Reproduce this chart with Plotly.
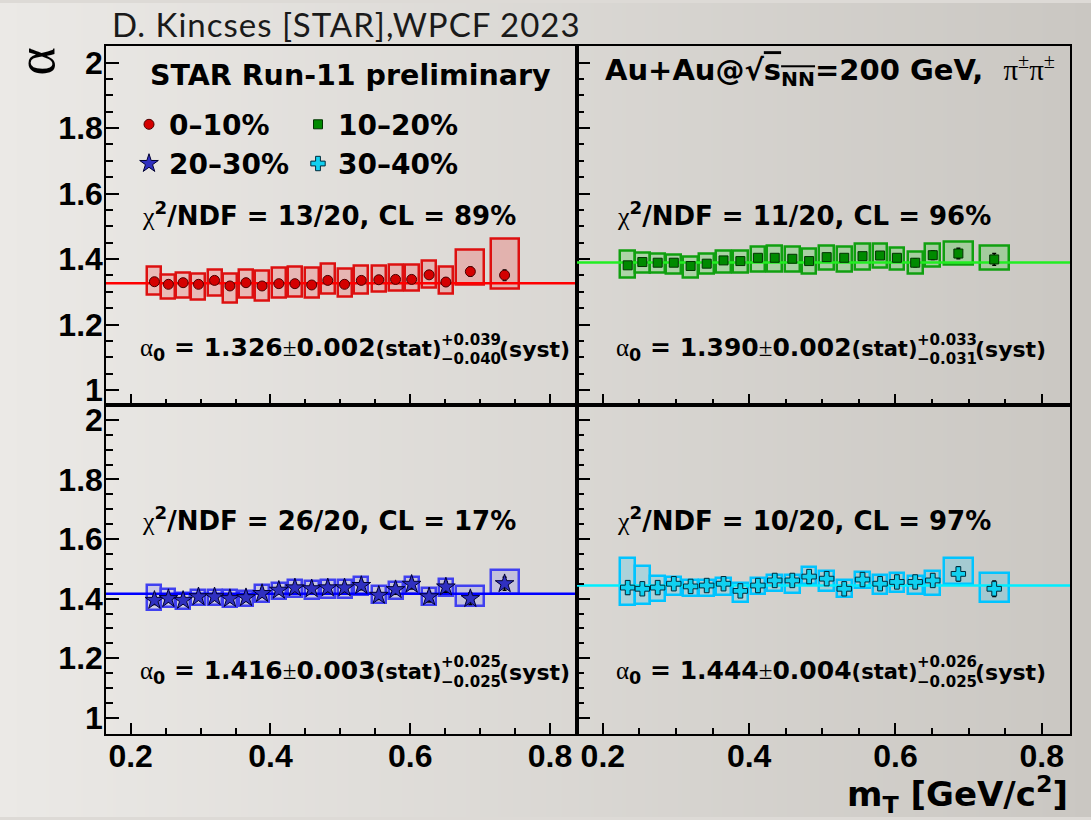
import plotly.graph_objects as go

W, H = 1091, 820

# mT bin centres and bin widths [GeV/c^2]
mt = [0.234, 0.254, 0.275, 0.297, 0.320, 0.342, 0.365, 0.388, 0.412, 0.435, 0.459,
      0.482, 0.506, 0.530, 0.555, 0.579, 0.602, 0.627, 0.651, 0.686, 0.735]
mt_width = [0.02, 0.02, 0.02, 0.02, 0.02, 0.02, 0.02, 0.02, 0.02, 0.02, 0.02,
            0.02, 0.02, 0.02, 0.02, 0.02, 0.02, 0.02, 0.02, 0.04, 0.04]

centrality = ["0–10%", "10–20%", "20–30%", "30–40%"]

# 0-10%
alpha_0_10 = [1.331, 1.323, 1.328, 1.323, 1.335, 1.318, 1.328, 1.318, 1.325, 1.325, 1.321,
              1.335, 1.323, 1.335, 1.337, 1.338, 1.338, 1.352, 1.330, 1.362, 1.351]
stat_0_10 = [0.005, 0.005, 0.005, 0.005, 0.005, 0.005, 0.005, 0.005, 0.005, 0.006, 0.006,
             0.006, 0.006, 0.006, 0.007, 0.007, 0.008, 0.010, 0.011, 0.014, 0.016]
syst_up_0_10 = [0.045, 0.030, 0.030, 0.032, 0.033, 0.037, 0.040, 0.047, 0.048, 0.051, 0.053,
                0.051, 0.047, 0.045, 0.043, 0.045, 0.045, 0.042, 0.046, 0.068, 0.112]
syst_dn_0_10 = [0.040, 0.045, 0.045, 0.048, 0.047, 0.051, 0.047, 0.045, 0.042, 0.040, 0.040,
                0.040, 0.038, 0.040, 0.036, 0.035, 0.035, 0.038, 0.037, 0.040, 0.042]

# 10-20%
alpha_10_20 = [1.381, 1.391, 1.389, 1.389, 1.379, 1.386, 1.396, 1.394, 1.404, 1.404, 1.401,
               1.394, 1.406, 1.404, 1.409, 1.411, 1.404, 1.389, 1.412, 1.417, 1.399]
stat_10_20 = [0.006, 0.006, 0.006, 0.006, 0.006, 0.006, 0.006, 0.006, 0.007, 0.007, 0.007,
              0.007, 0.007, 0.008, 0.008, 0.009, 0.010, 0.012, 0.013, 0.016, 0.018]
syst_up_10_20 = [0.045, 0.028, 0.028, 0.025, 0.027, 0.031, 0.031, 0.033, 0.033, 0.037, 0.038,
                 0.037, 0.035, 0.035, 0.038, 0.036, 0.032, 0.035, 0.035, 0.037, 0.042]
syst_dn_10_20 = [0.039, 0.032, 0.030, 0.035, 0.035, 0.032, 0.037, 0.035, 0.043, 0.043, 0.040,
                 0.037, 0.039, 0.042, 0.042, 0.037, 0.037, 0.035, 0.035, 0.033, 0.032]

# 20-30%
alpha_20_30 = [1.394, 1.400, 1.394, 1.406, 1.406, 1.400, 1.403, 1.417, 1.428, 1.436, 1.433,
               1.436, 1.436, 1.444, 1.411, 1.430, 1.448, 1.406, 1.439, 1.400, 1.450]
stat_20_30 = [0.014, 0.012, 0.012, 0.011, 0.011, 0.011, 0.011, 0.012, 0.012, 0.012, 0.013,
              0.013, 0.013, 0.014, 0.014, 0.015, 0.016, 0.017, 0.018, 0.020, 0.022]
syst_up_20_30 = [0.053, 0.033, 0.024, 0.022, 0.022, 0.028, 0.024, 0.028, 0.024, 0.026, 0.026,
                 0.026, 0.028, 0.028, 0.031, 0.026, 0.024, 0.028, 0.028, 0.042, 0.047]
syst_dn_20_30 = [0.033, 0.028, 0.028, 0.028, 0.028, 0.028, 0.029, 0.028, 0.031, 0.030, 0.033,
                 0.033, 0.033, 0.033, 0.026, 0.030, 0.031, 0.028, 0.031, 0.026, 0.033]

# 30-40%
alpha_30_40 = [1.437, 1.433, 1.437, 1.450, 1.441, 1.444, 1.450, 1.426, 1.444, 1.461, 1.461,
               1.474, 1.467, 1.433, 1.464, 1.450, 1.456, 1.456, 1.461, 1.483, 1.433]
stat_30_40 = [0.022, 0.020, 0.018, 0.017, 0.016, 0.016, 0.016, 0.016, 0.016, 0.017, 0.017,
              0.017, 0.018, 0.018, 0.019, 0.019, 0.020, 0.021, 0.022, 0.024, 0.026]
syst_up_30_40 = [0.099, 0.076, 0.039, 0.022, 0.023, 0.020, 0.019, 0.027, 0.024, 0.017, 0.017,
                 0.031, 0.026, 0.028, 0.024, 0.030, 0.030, 0.019, 0.031, 0.052, 0.052]
syst_dn_30_40 = [0.059, 0.050, 0.044, 0.037, 0.032, 0.036, 0.039, 0.037, 0.030, 0.036, 0.041,
                 0.024, 0.041, 0.028, 0.028, 0.033, 0.033, 0.042, 0.048, 0.033, 0.044]

# fit results
alpha0 = [1.326, 1.390, 1.416, 1.444]
alpha0_stat = [0.002, 0.002, 0.003, 0.004]
alpha0_syst_up = [0.039, 0.033, 0.025, 0.026]
alpha0_syst_dn = [0.040, 0.031, 0.025, 0.025]
chi2 = [13, 11, 26, 10]
ndf = [20, 20, 20, 20]
cl = [89, 96, 17, 97]

series = [
    (alpha_0_10, stat_0_10, syst_up_0_10, syst_dn_0_10),
    (alpha_10_20, stat_10_20, syst_up_10_20, syst_dn_10_20),
    (alpha_20_30, stat_20_30, syst_up_20_30, syst_dn_20_30),
    (alpha_30_40, stat_30_40, syst_up_30_40, syst_dn_30_40),
]

styles = [
    dict(fit="#ff0000", edge="#dd1010", fill="rgba(255,0,0,0.18)", symbol="circle",
         size=10, color="#d40000", outline="#4a0000"),
    dict(fit="#22ee22", edge="#10a010", fill="rgba(0,210,0,0.20)", symbol="square",
         size=9, color="#008a00", outline="#003300"),
    dict(fit="#0000ff", edge="#4040f0", fill="rgba(70,70,255,0.16)", symbol="star",
         size=14, color="#3030c0", outline="#000033"),
    dict(fit="#00eeff", edge="#00c4ff", fill="rgba(0,200,255,0.20)", symbol="cross",
         size=12, color="#10d0f0", outline="#002a3a"),
]

axes = [("x2", "y2"), ("x3", "y3"), ("x4", "y4"), ("x5", "y5")]
legends = ["legend", "legend", "legend2", "legend2"]
x_range = [0.1647, 0.8386]

fig = go.Figure()

# slide background gradient
fig.add_trace(go.Heatmap(
    z=[[0, 1]], x=[0, 1], y=[0.5], zsmooth="best",
    colorscale=[[0, "#ebe9e6"], [1, "#cac7c2"]],
    showscale=False, hoverinfo="skip", xaxis="x", yaxis="y"
))

for i, (vals, stat, up, dn) in enumerate(series):
    st = styles[i]
    xa, ya = axes[i]

    # systematic boxes
    fig.add_trace(go.Bar(
        x=mt, y=[u + d for u, d in zip(up, dn)],
        base=[v - d for v, d in zip(vals, dn)],
        width=mt_width,
        marker=dict(color=st["fill"], line=dict(color=st["edge"], width=2.5)),
        showlegend=False, hoverinfo="skip", xaxis=xa, yaxis=ya
    ))

    # constant fit
    fig.add_trace(go.Scatter(
        x=x_range, y=[alpha0[i], alpha0[i]], mode="lines",
        line=dict(color=st["fit"], width=2.5),
        showlegend=False, hoverinfo="skip", xaxis=xa, yaxis=ya
    ))

    # data points with stat errors
    fig.add_trace(go.Scatter(
        x=mt, y=vals, mode="markers", name=centrality[i],
        marker=dict(symbol=st["symbol"], size=st["size"], color=st["color"],
                    line=dict(color=st["outline"], width=1)),
        error_y=dict(type="data", array=stat, color="black", thickness=1.5, width=2),
        legend=legends[i], xaxis=xa, yaxis=ya
    ))

tick_font = dict(family="Liberation Sans", size=32, color="black", weight="bold")

def x_axis(domain, labels):
    return dict(
        domain=domain, range=x_range, showline=True, linecolor="black", linewidth=1.5,
        mirror=True, ticks="inside", ticklen=11, tickwidth=1.5, tickcolor="black",
        tick0=0.2, dtick=0.2, showticklabels=labels, tickfont=tick_font,
        ticklabelstandoff=-7,
        minor=dict(ticks="inside", dtick=0.05, tick0=0.2, ticklen=6, tickwidth=1.5,
                   tickcolor="black"),
        showgrid=False, zeroline=False, fixedrange=True
    )

def y_axis(domain, yrange, labels, anchor):
    return dict(
        domain=domain, range=yrange, anchor=anchor, showline=True, linecolor="black",
        linewidth=1.5, mirror=True, ticks="inside", ticklen=13, tickwidth=1.5,
        tickcolor="black", tick0=1, dtick=0.2, showticklabels=labels, tickfont=tick_font,
        ticklabelstandoff=-5,
        minor=dict(ticks="inside", dtick=0.05, tick0=1, ticklen=7, tickwidth=1.5,
                   tickcolor="black"),
        showgrid=False, zeroline=False, fixedrange=True
    )

xl = [106 / W, 577 / W]
xr = [577 / W, 1070 / W]
yt = [1 - 405 / H, 1 - 43 / H]
yb = [1 - 736 / H, 1 - 405 / H]
top_range = [0.9545, 2.0515]
bot_range = [0.9467, 2.05]

legend_font = dict(family="DejaVu Sans", size=28, color="black", weight="bold")

fig.update_layout(
    width=W, height=H,
    margin=dict(l=0, r=0, t=0, b=0),
    paper_bgcolor="#dddad6", plot_bgcolor="rgba(0,0,0,0)",
    barmode="overlay", bargap=0,
    xaxis=dict(domain=[0, 1], range=[0, 1], visible=False, fixedrange=True),
    yaxis=dict(domain=[0, 1], range=[0, 1], visible=False, fixedrange=True),
    xaxis2={**x_axis(xl, False), "anchor": "y2"},
    yaxis2=y_axis(yt, top_range, True, "x2"),
    xaxis3={**x_axis(xr, False), "anchor": "y3"},
    yaxis3=y_axis(yt, top_range, False, "x3"),
    xaxis4={**x_axis(xl, True), "anchor": "y4"},
    yaxis4=y_axis(yb, bot_range, True, "x4"),
    xaxis5={**x_axis(xr, True), "anchor": "y5"},
    yaxis5=y_axis(yb, bot_range, False, "x5"),
    legend=dict(x=129 / W, y=1 - 122.5 / H, xanchor="left", yanchor="middle",
                orientation="h", entrywidth=124, bgcolor="rgba(0,0,0,0)",
                font=legend_font),
    legend2=dict(x=129 / W, y=1 - 162 / H, xanchor="left", yanchor="middle",
                 orientation="h", entrywidth=124, bgcolor="rgba(0,0,0,0)",
                 font=legend_font),
    showlegend=True,
)

SERIF = "font-family:Liberation Serif;font-weight:normal"
bold = dict(family="DejaVu Sans", color="black", weight="bold")


def note(px, py, text, size, anchor="left", font=None, angle=0):
    f = dict(bold if font is None else font)
    f["size"] = size
    fig.add_annotation(
        x=px / W, y=1 - py / H, xref="paper", yref="paper", text=text,
        showarrow=False, xanchor=anchor, yanchor="middle", font=f, textangle=angle
    )


note(110, 21, "<span style='letter-spacing:1px'>D. Kincses [STAR],WPCF 2023</span>", 33,
     font=dict(family="Lato", color="#1a1a1a"))
note(36, 59, "α", 54, anchor="center",
     font=dict(family="Liberation Serif", color="black"), angle=-90)
note(350, 73, "STAR Run-11 preliminary", 28.5, anchor="center")
note(603, 68, "Au+Au@√<span style='text-decoration:overline'>s<sub>NN</sub></span>"
     f"=200 GeV,  <span style='{SERIF}'>π<sup>±</sup>π<sup>±</sup></span>", 29)
note(1070, 797, "m<sub>T</sub> [GeV/c<sup>2</sup>]", 34, anchor="right")

text_x = [140, 615, 140, 615]
stat_end_x = [441, 917, 441, 917]
chi2_y = [213, 213, 520, 520]
fit_y = [349, 349, 674, 674]

for i in range(4):
    note(text_x[i], chi2_y[i],
         f"<span style='{SERIF}'>χ</span><sup>2</sup>/NDF = {chi2[i]}/{ndf[i]}, CL = {cl[i]}%",
         26)
    note(stat_end_x[i] + 3, fit_y[i],
         f"<span style='{SERIF}'>α</span><sub>0</sub> = {alpha0[i]:.3f}"
         f"<span style='{SERIF}'>±</span>{alpha0_stat[i]:.3f}"
         "<span style='font-size:21px'>(stat)</span>", 25, anchor="right")
    note(stat_end_x[i] - 2, fit_y[i] - 10, f"+{alpha0_syst_up[i]:.3f}", 15)
    note(stat_end_x[i] - 2, fit_y[i] + 10, f"−{alpha0_syst_dn[i]:.3f}", 15)
    note(stat_end_x[i] + 56, fit_y[i], "(syst)", 22)

fig.write_html("out.html", config={"displayModeBar": False},
               post_script="document.body.style.margin='0';"
                           "document.body.style.overflow='hidden';")
